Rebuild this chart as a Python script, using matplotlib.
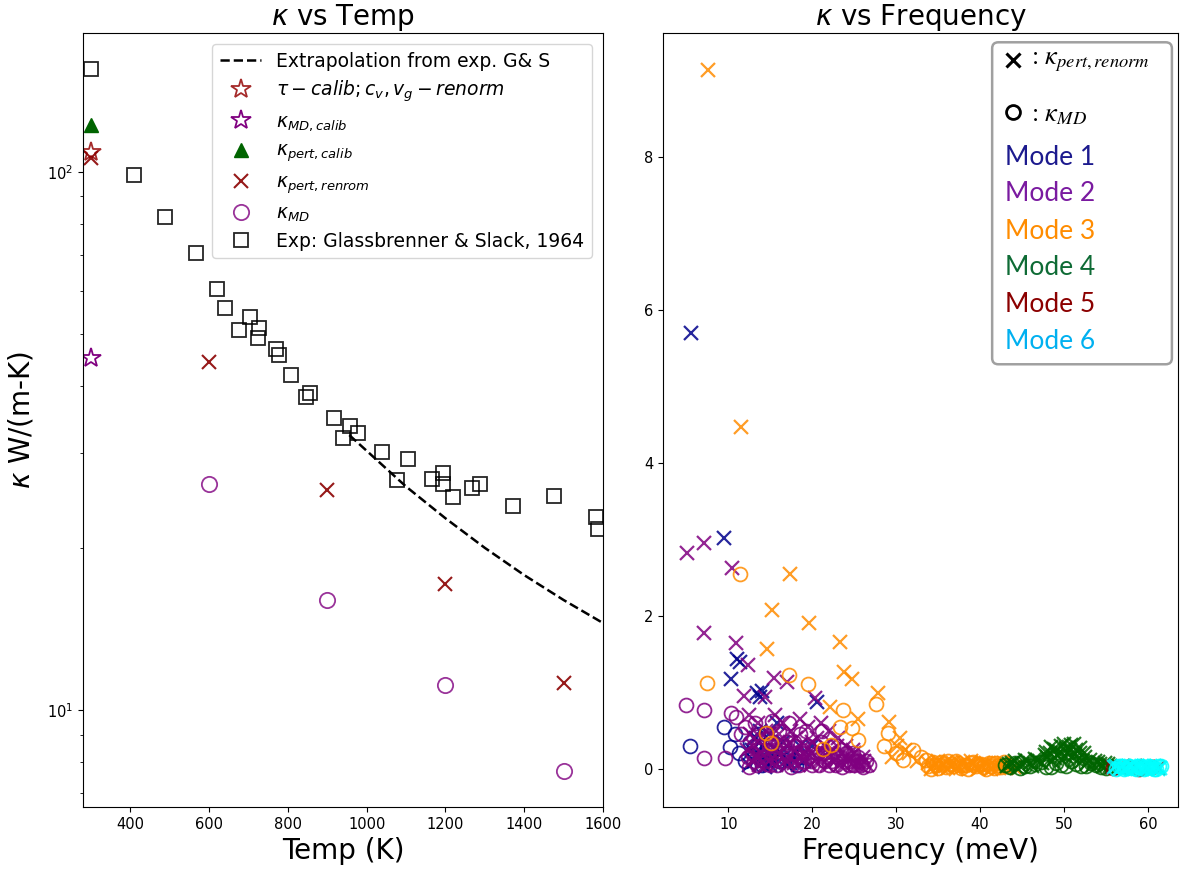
import matplotlib
matplotlib.use("Agg")
import matplotlib.pyplot as plt
from matplotlib.patches import FancyBboxPatch

# ---- left panel: kappa vs temperature ----
T_exp = [300, 410, 489, 568, 621, 641, 675, 705, 723, 728, 771, 777, 808, 847, 857,
         916, 941, 959, 977, 1038, 1076, 1104, 1167, 1193, 1195, 1218, 1267, 1287,
         1371, 1475, 1582, 1587]
k_exp = [155, 98.7, 82.5, 70.7, 60.6, 55.9, 50.7, 53.6, 49.1, 51.3, 46.9, 45.7, 41.9,
         38.2, 38.8, 34.9, 32.0, 33.7, 32.7, 30.2, 26.7, 29.2, 26.9, 26.3, 27.5, 24.9,
         25.8, 26.3, 23.9, 25.0, 22.8, 21.7]

T_ext = [956, 1000, 1100, 1200, 1300, 1400, 1500, 1600]
k_ext = [32.4, 30.3, 26.0, 22.7, 20.0, 17.8, 16.0, 14.5]

T_calib = [300]
k_tau_calib = [108.9]
k_md_calib = [45.1]
k_pert_calib = [122.3]

T_sim = [300, 600, 900, 1200, 1500]
k_pert_renorm = [106.2, 44.3, 25.6, 17.1, 11.2]
T_md = [600, 900, 1200, 1500]
k_md = [26.3, 16.0, 11.1, 7.7]

# ---- right panel: kappa per mode vs frequency ----
m1_f_pert = [5.5, 9.5, 11.0, 11.4, 10.3, 13.4, 13.7, 14.0, 20.6, 12.5, 13.0, 13.5, 14.0,
             14.5, 15.0, 15.5, 16.0, 16.5, 17.0, 17.5, 18.0, 13.8, 14.8, 15.8, 19.0, 20.0,
             12.8, 13.3, 14.3, 15.3, 16.3, 17.3, 18.5]
m1_k_pert = [5.70, 3.02, 1.43, 1.39, 1.17, 0.99, 0.94, 1.02, 0.87, 0.05, 0.10, 0.20, 0.30,
             0.15, 0.05, 0.25, 0.10, 0.35, 0.05, 0.15, 0.20, 0.50, 0.45, 0.60, 0.10, 0.30,
             0.25, 0.40, 0.02, 0.12, 0.20, 0.08, 0.30]
m1_f_md = [5.4, 9.5, 10.8, 10.2, 11.2, 12.0, 13.0, 14.0, 15.0, 16.0, 17.0, 18.0, 13.5,
           12.6, 14.6, 16.6, 18.6]
m1_k_md = [0.30, 0.54, 0.46, 0.29, 0.20, 0.10, 0.30, 0.05, 0.15, 0.10, 0.20, 0.05, 0.45,
           0.35, 0.25, 0.30, 0.15]

m2_f_pert = [5.0, 7.1, 10.4, 7.1, 10.9, 12.3, 15.4, 17.0, 14.3, 20.3, 11.8,
             12.5, 13.0, 13.5, 14.0, 14.5, 15.0, 15.5, 16.0, 16.5, 17.0, 17.5, 18.0, 18.5,
             19.0, 19.5, 20.0, 20.5, 21.0, 21.5, 22.0, 22.5, 23.0, 23.5, 24.0, 24.5, 25.0,
             25.5, 26.0, 26.5, 12.8, 13.6, 14.8, 15.7, 16.8, 17.8, 18.8, 19.8, 20.8, 21.8,
             22.8, 23.8, 24.8, 25.8, 12.6,
             12.2, 12.9, 13.3, 13.9, 14.3, 14.9, 15.3, 15.9, 16.3, 16.9, 17.3, 17.9, 18.3,
             18.9, 19.3, 19.9, 20.3, 20.9, 21.3, 21.9, 22.3, 22.9, 23.3, 23.9, 24.3, 24.9,
             25.3, 26.2]
m2_k_pert = [2.82, 2.95, 2.63, 1.78, 1.65, 1.36, 1.19, 1.13, 0.94, 0.92, 0.95,
             0.70, 0.40, 0.60, 0.20, 0.50, 0.35, 0.70, 0.45, 0.60, 0.30, 0.50, 0.40, 0.65,
             0.30, 0.55, 0.20, 0.40, 0.60, 0.30, 0.50, 0.25, 0.40, 0.20, 0.30, 0.15, 0.20,
             0.10, 0.15, 0.05, 0.10, 0.05, 0.10, 0.05, 0.12, 0.08, 0.15, 0.05, 0.10, 0.05,
             0.12, 0.05, 0.08, 0.03, 0.45,
             0.25, 0.30, 0.15, 0.40, 0.05, 0.25, 0.45, 0.20, 0.30, 0.10, 0.35, 0.25, 0.05,
             0.20, 0.15, 0.35, 0.10, 0.25, 0.15, 0.20, 0.10, 0.30, 0.05, 0.15, 0.10, 0.25,
             0.05, 0.10]
m2_f_md = [4.9, 7.1, 10.3, 10.9, 7.1, 9.6, 12.5, 13.0, 13.5, 14.0, 14.5, 15.0, 15.5, 16.0,
           16.5, 17.0, 17.5, 18.0, 18.5, 19.0, 19.5, 20.0, 20.5, 21.0, 21.5, 22.0, 22.5,
           23.0, 23.5, 24.0, 24.5, 25.0, 25.5, 26.0, 26.8, 11.5, 12.0, 13.2, 15.2, 17.2,
           19.2, 21.2,
           12.3, 12.8, 13.4, 13.8, 14.4, 14.8, 15.4, 15.8, 16.4, 16.8, 17.4, 17.8, 18.4,
           18.8, 19.4, 19.8, 20.4, 20.8, 21.4, 21.8, 22.4, 22.8, 23.4, 23.8, 24.4, 24.8,
           25.4, 25.8, 26.4]
m2_k_md = [0.84, 0.77, 0.73, 0.68, 0.14, 0.14, 0.02, 0.10, 0.30, 0.15, 0.40, 0.05, 0.25,
           0.50, 0.10, 0.35, 0.02, 0.20, 0.45, 0.10, 0.30, 0.05, 0.20, 0.35, 0.10, 0.05,
           0.30, 0.15, 0.02, 0.20, 0.10, 0.05, 0.15, 0.02, 0.05, 0.45, 0.55, 0.60, 0.62,
           0.60, 0.50, 0.50,
           0.15, 0.20, 0.05, 0.25, 0.10, 0.30, 0.15, 0.05, 0.30, 0.20, 0.10, 0.35, 0.05,
           0.25, 0.15, 0.10, 0.30, 0.05, 0.20, 0.15, 0.10, 0.05, 0.25, 0.10, 0.05, 0.20,
           0.10, 0.05, 0.10]

m3_f_pert = [7.6, 11.5, 17.3, 15.2, 19.6, 23.3, 14.6, 23.8, 24.7, 27.8, 22.1, 25.4, 29.1,
             30.1, 31.0, 31.5, 29.5, 32.5, 30.5,
             33.8, 34.4, 35.0, 35.6, 36.2, 36.8, 37.4, 38.0, 38.6, 39.2, 39.8, 40.4, 41.0,
             41.6, 42.2, 42.8, 43.4, 44.0,
             34.1, 34.7, 35.3, 35.9, 36.5, 37.1, 37.7, 38.3, 38.9, 39.5, 40.1, 40.7, 41.3,
             41.9, 42.5, 43.1]
m3_k_pert = [9.14, 4.47, 2.54, 2.07, 1.91, 1.66, 1.56, 1.27, 1.18, 0.99, 0.81, 0.65, 0.61,
             0.30, 0.25, 0.20, 0.15, 0.10, 0.40,
             0.08, 0.03, 0.10, 0.05, 0.01, 0.07, 0.04, 0.09, 0.02, 0.06, 0.00, 0.08, 0.03,
             0.05, 0.01, 0.07, 0.04, 0.02,
             0.00, 0.06, 0.02, 0.09, 0.04, 0.00, 0.06, 0.03, 0.10, 0.05, 0.02, 0.07, 0.00,
             0.04, 0.08, 0.01]
m3_f_md = [11.4, 7.4, 17.2, 19.5, 27.6, 23.7, 14.5, 15.1, 21.3, 22.2, 23.3, 24.7, 25.5,
           29.0, 28.5, 30.0, 30.8, 32.0, 33.0,
           33.5, 34.1, 34.7, 35.3, 35.9, 36.5, 37.1, 37.7, 38.3, 38.9, 39.5, 40.1, 40.7,
           41.3, 41.9, 42.5, 43.1,
           33.8, 34.4, 35.0, 35.6, 36.2, 36.8, 37.4, 38.0, 38.6, 39.2, 39.8, 40.4, 41.0,
           41.6, 42.2, 42.8, 43.6]
m3_k_md = [2.55, 1.12, 1.22, 1.11, 0.85, 0.77, 0.47, 0.34, 0.26, 0.31, 0.55, 0.53, 0.38,
           0.47, 0.30, 0.20, 0.12, 0.25, 0.15,
           0.12, 0.00, 0.05, 0.09, 0.02, 0.06, 0.10, 0.01, 0.05, 0.08, 0.03, 0.06, 0.00,
           0.04, 0.07, 0.02, 0.05,
           0.04, 0.09, 0.01, 0.06, 0.10, 0.03, 0.07, 0.05, 0.00, 0.09, 0.06, 0.02, 0.08,
           0.01, 0.05, 0.09, 0.03]

m4_f_pert = [43.2, 43.8, 44.4, 45.0, 45.6, 46.2, 46.8, 47.4, 48.0, 48.6, 49.2, 49.8, 50.4,
             51.0, 51.6, 52.2, 52.8, 53.4, 54.0, 54.6, 55.2, 55.7,
             47.8, 48.8, 49.6, 50.2, 50.8, 51.4, 52.4,
             43.5, 44.1, 44.7, 45.3, 45.9, 46.5, 47.1, 47.7, 48.3, 48.9, 49.5, 50.1, 50.7,
             51.3, 51.9, 52.5, 53.1, 53.7, 54.3, 54.9, 55.5,
             48.4, 49.1, 50.0, 50.6, 51.2, 51.9]
m4_k_pert = [0.03, 0.08, 0.01, 0.06, 0.10, 0.04, 0.12, 0.07, 0.15, 0.10, 0.18, 0.12, 0.20,
             0.15, 0.12, 0.10, 0.08, 0.05, 0.09, 0.03, 0.06, 0.02,
             0.22, 0.26, 0.30, 0.27, 0.31, 0.24, 0.20,
             0.06, 0.10, 0.04, 0.12, 0.07, 0.13, 0.09, 0.18, 0.20, 0.14, 0.22, 0.17, 0.25,
             0.19, 0.20, 0.16, 0.12, 0.10, 0.06, 0.08, 0.04,
             0.28, 0.24, 0.33, 0.29, 0.32, 0.27]
m4_f_md = [43.0, 43.6, 44.2, 45.4, 46.6, 47.8, 49.0, 50.2, 51.4, 52.6, 53.8, 55.0,
           44.8, 46.0, 47.2, 48.4, 49.6, 50.8, 52.0, 53.2, 54.4, 55.5]
m4_k_md = [0.05, 0.02, 0.07, 0.03, 0.06, 0.02, 0.08, 0.04, 0.06, 0.03, 0.05, 0.01,
           0.01, 0.04, 0.09, 0.02, 0.05, 0.10, 0.03, 0.07, 0.02, 0.04]

m5_f_pert = [55.8, 57.0, 58.5, 60.0, 61.2]
m5_k_pert = [0.02, 0.01, 0.03, 0.02, 0.01]
m5_f_md = [55.9, 57.5, 59.0, 60.5]
m5_k_md = [0.01, 0.02, 0.00, 0.02]

m6_f_pert = [56.0, 56.5, 57.0, 57.5, 58.0, 58.5, 59.0, 59.5, 60.0, 60.5, 61.0, 61.5,
             56.25, 56.75, 57.25, 57.75, 58.25, 58.75, 59.25, 59.75, 60.25, 60.75, 61.25]
m6_k_pert = [0.02, 0.00, 0.03, 0.01, 0.04, 0.00, 0.02, 0.03, 0.01, 0.00, 0.02, 0.01,
             0.04, 0.01, 0.00, 0.03, 0.01, 0.04, 0.00, 0.02, 0.04, 0.03, 0.00]
m6_f_md = [56.2, 56.8, 57.4, 58.0, 58.6, 59.2, 59.8, 60.4, 61.0, 61.6,
           56.5, 57.1, 57.7, 58.3, 58.9, 59.5, 60.1, 60.7, 61.3]
m6_k_md = [0.00, 0.03, 0.01, 0.02, 0.00, 0.03, 0.01, 0.02, 0.00, 0.03,
           0.04, 0.00, 0.04, 0.01, 0.04, 0.00, 0.03, 0.00, 0.04]

mode_names = ["Mode 1", "Mode 2", "Mode 3", "Mode 4", "Mode 5", "Mode 6"]
mode_colors = ["darkblue", "purple", "darkorange", "darkgreen", "darkred", "cyan"]
mode_text_colors = ["#1c1a8e", "#7a1aa0", "#ff8c00", "#0e6b35", "#8b0000", "#00b0f0"]

fig = plt.figure(figsize=(11.84, 8.73), dpi=100)
ax1 = fig.add_axes([0.0701, 0.0756, 0.4392, 0.8866])
ax2 = fig.add_axes([0.5600, 0.0756, 0.4350, 0.8866])

ax1.plot(T_ext, k_ext, "k--", lw=1.8, label="Extrapolation from exp. G& S")
ax1.plot(T_calib, k_tau_calib, ls="none", marker="*", ms=15, mfc="none", mec="brown",
         mew=1.3, label=r"$\tau-calib; c_v, v_g-renorm$")
ax1.plot(T_calib, k_md_calib, ls="none", marker="*", ms=15, mfc="none", mec="purple",
         mew=1.3, label=r"$\kappa_{MD,calib}$")
ax1.plot(T_calib, k_pert_calib, ls="none", marker="^", ms=10, color="darkgreen",
         label=r"$\kappa_{pert,calib}$")
ax1.plot(T_sim, k_pert_renorm, ls="none", marker="x", ms=10, mew=1.5, color="darkred",
         alpha=0.9, label=r"$\kappa_{pert,renrom}$")
ax1.plot(T_md, k_md, ls="none", marker="o", ms=11, mfc="none", mec="purple", mew=1.3,
         alpha=0.8, label=r"$\kappa_{MD}$")
ax1.plot(T_exp, k_exp, ls="none", marker="s", ms=10, mfc="none", mec="black", mew=1.3,
         alpha=0.85, label="Exp: Glassbrenner & Slack, 1964")

ax1.set_yscale("log")
ax1.set_xlim(280, 1600)
ax1.set_ylim(6.6, 181)
ax1.set_title(r"$\kappa$ vs Temp", fontsize=20)
ax1.set_xlabel("Temp (K)", fontsize=20)
ax1.set_ylabel(r"$\kappa$ W/(m-K)", fontsize=20, labelpad=8)
ax1.tick_params(labelsize=10.5)
ax1.legend(loc="upper right", fontsize=13.5, labelspacing=0.42, handlelength=2.2,
           borderaxespad=0.6)

mode_data = [
    (m1_f_pert, m1_k_pert, m1_f_md, m1_k_md),
    (m2_f_pert, m2_k_pert, m2_f_md, m2_k_md),
    (m3_f_pert, m3_k_pert, m3_f_md, m3_k_md),
    (m4_f_pert, m4_k_pert, m4_f_md, m4_k_md),
    (m5_f_pert, m5_k_pert, m5_f_md, m5_k_md),
    (m6_f_pert, m6_k_pert, m6_f_md, m6_k_md),
]
for (fp, kp, fm, km), c in zip(mode_data, mode_colors):
    ax2.plot(fp, kp, ls="none", marker="x", ms=10, mew=1.6, color=c, alpha=0.85)
    ax2.plot(fm, km, ls="none", marker="o", ms=10, mfc="none", mec=c, mew=1.3, alpha=0.85)

ax2.set_xlim(2.2, 63.6)
ax2.set_ylim(-0.5, 9.62)
ax2.set_title(r"$\kappa$ vs Frequency", fontsize=20)
ax2.set_xlabel("Frequency (meV)", fontsize=20)
ax2.tick_params(labelsize=10.5)

# hand-made legend box
box = FancyBboxPatch((0.639, 0.572), 0.349, 0.416, transform=ax2.transAxes,
                     boxstyle="round,pad=0,rounding_size=0.012", mutation_aspect=515 / 775,
                     fc="white", ec="#a0a0a0", lw=1.8, zorder=5)
ax2.add_patch(box)
ax2.plot([0.680], [0.965], transform=ax2.transAxes, marker="x", ms=10, mew=2.2,
         color="black", zorder=6)
ax2.plot([0.680], [0.898], transform=ax2.transAxes, marker="o", ms=10, mfc="none",
         mec="black", mew=2, zorder=6)
ax2.text(0.715, 0.963, r": $\kappa_{pert,renorm}$", transform=ax2.transAxes,
         fontsize=19, va="center", math_fontfamily="stix", family="STIXGeneral", zorder=6)
ax2.text(0.715, 0.893, r": $\kappa_{MD}$", transform=ax2.transAxes,
         fontsize=19, va="center", math_fontfamily="stix", family="STIXGeneral", zorder=6)
mode_y = [0.839, 0.792, 0.743, 0.697, 0.649, 0.601]
for name, c, yy in zip(mode_names, mode_text_colors, mode_y):
    ax2.text(0.664, yy, name, transform=ax2.transAxes, fontsize=19, color=c,
             va="center", family="Lato", zorder=6)

fig.savefig("out.png", dpi=100)
